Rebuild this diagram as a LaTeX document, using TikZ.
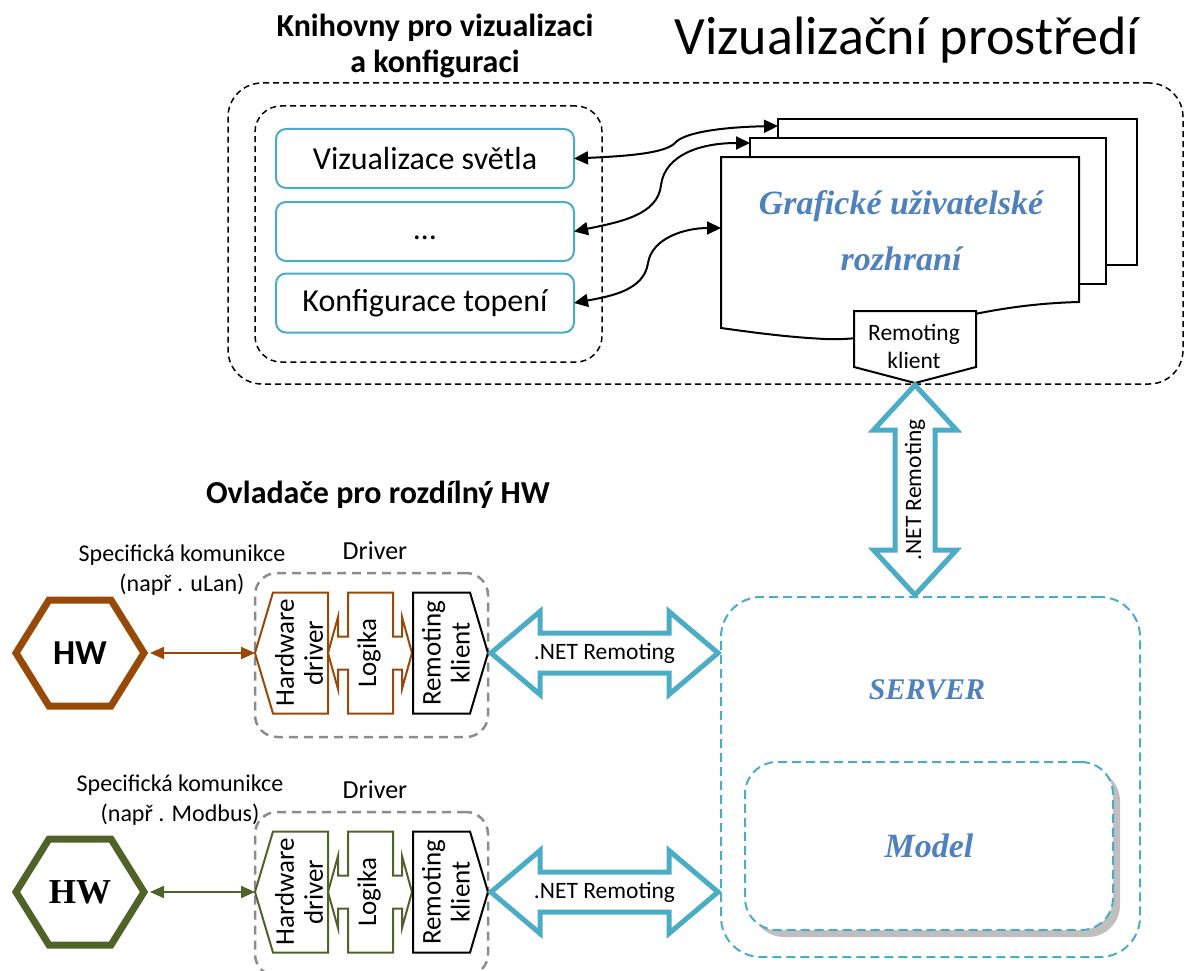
\documentclass[tikz,border=0pt]{standalone}
\usepackage{fontspec}
\setmainfont{Carlito}
\newfontfamily\cambriafont{Liberation Serif}
\usetikzlibrary{arrows.meta,calc,shadows}

\definecolor{netteal}{HTML}{4BACC6}
\definecolor{hwbrown}{HTML}{984807}
\definecolor{hwgreen}{HTML}{4F6228}
\definecolor{guiblue}{HTML}{4F81BD}
\definecolor{drvgray}{HTML}{8C8C8C}
\definecolor{shadowgray}{HTML}{BFBFBF}

\newcommand\setfs[2]{\fontsize{#1}{#2}\selectfont}

\tikzset{
  holder/.style={inner sep=0pt, outer sep=0pt},
  envframe/.style={holder, draw=black, line width=1.5pt, dash pattern=on 6pt off 4pt, rounded corners=34pt},
  libframe/.style={holder, draw=black, line width=1.5pt, dash pattern=on 6pt off 4pt, rounded corners=26pt},
  libitem/.style={holder, draw=netteal, line width=2pt, rounded corners=10pt, fill=white,
    minimum width=298, minimum height=59, font=\setfs{32}{36}},
  sheet/.style={holder, draw=black, line width=2pt, fill=white},
  linkarrow/.style={<->, >={Triangle[length=14pt,width=13pt]}, line width=2pt},
  netlink/.style={draw=netteal, fill=white, line width=5pt, line join=miter},
  nettext/.style={font=\setfs{23.5}{28}},
  smalltext/.style={font=\setfs{24}{30}, align=center},
  vtext/.style={rotate=90, align=center, font=\setfs{27}{29}},
  drvframe/.style={holder, draw=drvgray, line width=2.5pt, dash pattern=on 9pt off 6pt, rounded corners=22pt},
  serverframe/.style={holder, draw=netteal, line width=2pt, dash pattern=on 9pt off 5pt, rounded corners=40pt},
  modelframe/.style={serverframe, rounded corners=32pt, fill=white,
    drop shadow={shadow xshift=7pt, shadow yshift=-7pt, fill=shadowgray, opacity=1}},
  bluetitle/.style={text=guiblue, font=\cambriafont\bfseries\itshape\setfs{30}{34}},
  modeltitle/.style={text=guiblue, font=\cambriafont\bfseries\itshape\setfs{34}{38}},
  guititle/.style={text=guiblue, align=center, font=\cambriafont\bfseries\itshape\setfs{34}{56}},
  heading/.style={align=center, font=\bfseries\setfs{32}{36}},
  hwlink/.style={<->, >={Triangle[length=14pt,width=12pt]}, line width=2pt, shorten <=6pt},
}

% fat two-headed ".NET Remoting" link between two points on one row
\newcommand\netlinkh[3]{%
  \draw[netlink] let \p1=(#1), \p2=(#2) in
    (\x1+3pt,\y1) -- (\x1+52pt,\y1+41.5pt) -- (\x1+52pt,\y1+20pt) -- (\x2-52pt,\y1+20pt)
    -- (\x2-52pt,\y1+41.5pt) -- (\x2-3pt,\y1) -- (\x2-52pt,\y1-41.5pt) -- (\x2-52pt,\y1-20pt)
    -- (\x1+52pt,\y1-20pt) -- (\x1+52pt,\y1-41.5pt) -- cycle;
  \node[nettext] (#3) at ($(#1)!0.5!(#2)$) {.NET Remoting};
}

% one hardware unit with its driver: #1 suffix, #2 row y, #3 colour, #4 HW font
\newcommand\driverunit[4]{%
  \begin{scope}[shift={(0,#2)}]
    \node[drvframe, minimum width=233, minimum height=164] (drv#1) at (371.5,2) {};
    \node[font=\setfs{26}{30}] (drvlbl#1) at (375,-102) {Driver};
    % hexagonal HW block
    \node[holder, minimum width=128, minimum height=106, font=#4] (hw#1) at (80,0) {HW};
    \draw[draw=#3, line width=7pt, line join=miter] (hw#1.west) -- ++(33,-53) -- ++(62,0)
      -- (hw#1.east) -- ++(-33,53) -- ++(-62,0) -- cycle;
    % hardware driver
    \node[holder, minimum width=73, minimum height=121] (hwd#1) at (291.5,0) {};
    \draw[draw=#3, line width=2pt] (hwd#1.west) -- ++(18,-60.5) -- (hwd#1.north east)
      -- (hwd#1.south east) -- ++(-55,0) -- cycle;
    \node[vtext] (hwdlbl#1) at (299,0) {Hardware\\driver};
    % logic block with arrows to both sides
    \node[holder, minimum width=45, minimum height=121] (log#1) at (370.5,0) {};
    \draw[draw=#3, line width=2pt] (log#1.north west) -- (log#1.north east) -- ++(0,44) -- ++(9,0)
      -- ++(0,-19.5) -- ++(10,36) -- ++(-10,36) -- ++(0,-19.5) -- ++(-9,0) -- (log#1.south east)
      -- (log#1.south west) -- ++(0,-44) -- ++(-10,0) -- ++(0,19.5) -- ++(-10,-36) -- ++(10,-36)
      -- ++(0,19.5) -- ++(10,0) -- cycle;
    \node[vtext] (loglbl#1) at (369,0) {Logika};
    % remoting client
    \node[holder, minimum width=75, minimum height=121] (rk#1) at (450.5,0) {};
    \draw[line width=2pt] (rk#1.north west) -- ++(57,0) -- (rk#1.east) -- ++(-18,60.5)
      -- (rk#1.south west) -- cycle;
    \node[vtext] (rklbl#1) at (446,0) {Remoting\\klient};
    % links
    \draw[hwlink, draw=#3, fill=#3] (hw#1.east) -- (hwd#1.west);
    \coordinate (srvin#1) at (server.west |- rk#1.east);
  \end{scope}
  \netlinkh{rk#1.east}{srvin#1}{net#1}
}

\begin{document}
\begin{tikzpicture}[x=1pt, y=-1pt]
\useasboundingbox (0,0) rectangle (1185,971);

% ---------- visualisation environment ----------
\node[envframe, minimum width=955, minimum height=301] (env) at (705.5,233.5) {};
\node[font=\setfs{54}{60}] (envtitle) at (907,40) {Vizualizační prostředí};
\node[libframe, minimum width=347, minimum height=256] (libs) at (428.5,234) {};
\node[heading] (libstitle) at (435,46) {Knihovny pro vizualizaci\\a konfiguraci};

\node[libitem] (lib1) at (425,158.5) {Vizualizace světla};
\node[libitem] (lib2) at (425,231.5) {\vphantom{Ag}…};
\node[libitem] (lib3) at (425,303) {Konfigurace topení};

% stacked GUI windows
\node[sheet, minimum width=359, minimum height=146] (gui3) at (957.5,192) {};
\node[sheet, minimum width=356, minimum height=146] (gui2) at (928,211) {};
\node[holder, minimum width=358, minimum height=145] (gui1) at (900,229.5) {};
\draw[line width=2pt, fill=white] (gui1.north west) -- (gui1.north east) -- (gui1.south east)
  .. controls (960,305) and (900,342) .. (825,339)
  .. controls (785,337) and (750,332) .. ($(gui1.south west)+(0,26)$) -- cycle;
\node[guititle] (guilbl) at (901,231) {Grafické uživatelské\\rozhraní};

% remoting client of the GUI
\node[holder, minimum width=122, minimum height=56] (rkgui) at (915,339) {};
\coordinate (rkguitip) at ($(rkgui.south)+(0,16)$);
\draw[line width=2pt, fill=white] (rkgui.north west) -- (rkgui.north east) -- (rkgui.south east)
  -- (rkguitip) -- (rkgui.south west) -- cycle;
\node[align=center, font=\setfs{23.5}{28}] (rkguilbl) at (914,346) {Remoting\\klient};

% libraries <-> GUI windows
\draw[linkarrow] (lib1.east) .. controls (630,156) and (665,153) .. (675,143)
  .. controls (684,132) and (725,127) .. ($(gui3.north west)+(0,7)$);
\draw[linkarrow] (lib2.east) .. controls (620,222) and (658,215) .. (661,185)
  .. controls (665,155) and (700,143) .. ($(gui2.north west)+(0,5)$);
\draw[linkarrow] (lib3.east) .. controls (612,296) and (644,290) .. (648,263)
  .. controls (652,238) and (685,228) .. ($(gui1.north west)+(0,71)$);

% ---------- server ----------
\node[serverframe, minimum width=419, minimum height=360] (server) at (930.5,777) {};
\node[bluetitle] (serverlbl) at (927,690) {SERVER};
\node[modelframe, minimum width=368, minimum height=168, modeltitle] (model) at (929,846) {Model};

% GUI <-> server
\coordinate (srvtop) at (rkguitip |- server.north);
\draw[netlink] let \p1=(rkguitip), \p2=(srvtop) in
  (\x1,\y1-2pt) -- (\x1+41.5pt,\y1-47pt) -- (\x1+20pt,\y1-47pt) -- (\x1+20pt,\y2+47pt)
  -- (\x1+41.5pt,\y2+47pt) -- (\x1,\y2+2pt) -- (\x1-41.5pt,\y2+47pt) -- (\x1-20pt,\y2+47pt)
  -- (\x1-20pt,\y1-47pt) -- (\x1-41.5pt,\y1-47pt) -- cycle;
\node[nettext, rotate=90] (netvlbl) at ($(rkguitip)!0.5!(srvtop)$) {.NET Remoting};

% ---------- drivers ----------
\node[heading] (drvtitle) at (378,495) {Ovladače pro rozdílný HW};
\node[smalltext] (comm1) at (182,570) {Specifická komunikce\\(např . uLan)};
\node[smalltext] (comm2) at (180,800) {Specifická komunikce\\(např . Modbus)};

\driverunit{1}{653}{hwbrown}{\bfseries\setfs{35}{40}}
\driverunit{2}{892}{hwgreen}{\cambriafont\bfseries\setfs{35}{40}}

\end{tikzpicture}
\end{document}
